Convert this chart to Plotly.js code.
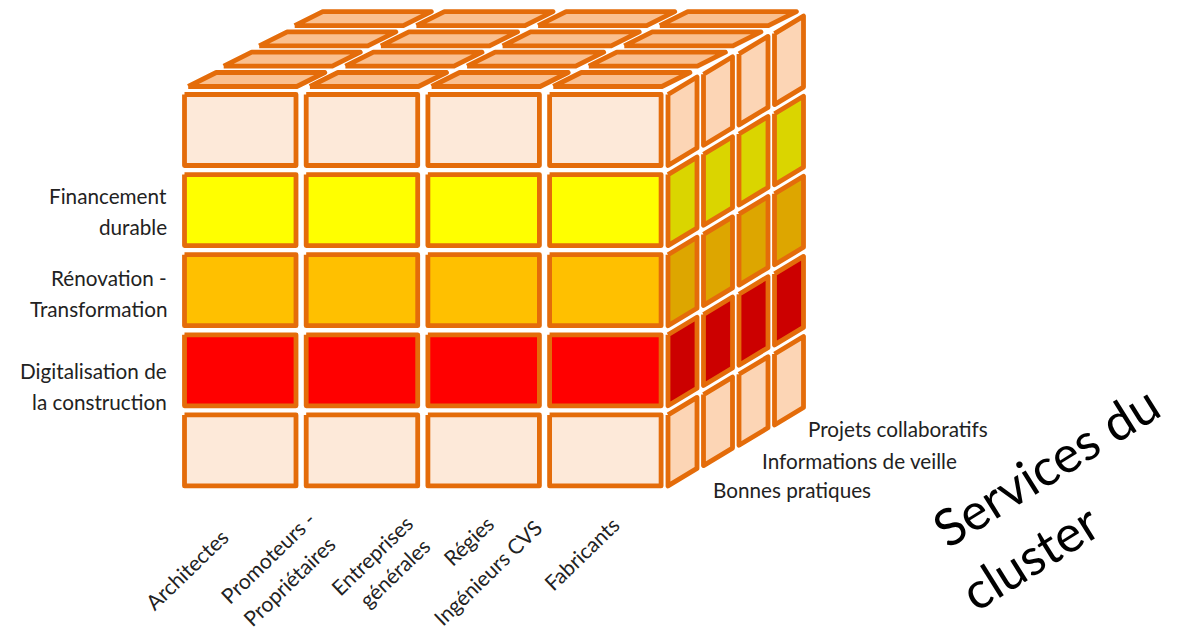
<!DOCTYPE html>
<html><head><meta charset="utf-8">
<script src="https://cdn.plot.ly/plotly-3.0.0.min.js"></script>
<style>html,body{margin:0;padding:0;background:#fff}
#chart path.js-line{stroke-linejoin:round}</style></head>
<body><div id="chart" style="width:1185px;height:631px"></div>
<script>
const publics = ["Architectes","Promoteurs -<br>Propriétaires","Entreprises<br>générales","Régies","Ingénieurs CVS","Fabricants"];
const themes = ["","Financement<br>durable","Rénovation -<br>Transformation","Digitalisation de<br>la construction",""];
const services = ["Bonnes pratiques","Informations de veille","Projets collaboratifs"];
const axisTitle = ["Services du","cluster"];
const frontColours = ["#FDE9D9","#FFFF00","#FFC000","#FF0000","#FDE9D9"];
const sideColours = ["#FCD5B5","#DAD500","#DDA600","#CC0000","#FCD5B5"];
const topColour = "#FAC090";
const edge = "#E46C0A";
const FONT = "Lato, 'Open Sans', sans-serif";

// cube geometry, in the axis units
const nCols = 4, nRows = 5, nDepth = 4;
const G = {x0:184.5, cw:111.5, cp:121.7, y0:94.5, rh:71, rp:80.1,
           sx0:668, sw:29, sp:35.5, sdrop:17.5, dy:20.3,
           tx0:188.2, tw:108.6, tShift:28, tBottom:86.5, tH:14};

const traces = [];
function cell(xs, ys, fill, name){
  traces.push({type:"scatter", mode:"lines", x:[...xs, xs[0]], y:[...ys, ys[0]],
    fill:"toself", fillcolor:fill, name:name, showlegend:false, hoverinfo:"name",
    line:{color:edge, width:4.8, shape:"linear"}});
}
for(let r=0;r<nRows;r++){
  const t=G.y0+r*G.rp, b=t+G.rh;
  for(let c=0;c<nCols;c++){
    const l=G.x0+c*G.cp;
    cell([l,l+G.cw,l+G.cw,l],[t,t,b,b],frontColours[r],"front");
  }
  for(let d=0;d<nDepth;d++){
    const l=G.sx0+d*G.sp, o=d*G.dy;
    cell([l,l+G.sw,l+G.sw,l],[t-o,t-o-G.sdrop,b-o-G.sdrop,b-o],sideColours[r],"side");
  }
}
for(let d=nDepth-1;d>=0;d--){
  for(let c=0;c<nCols;c++){
    const l=G.tx0+c*G.cp+d*G.sp, yb=G.tBottom-d*G.dy;
    cell([l,l+G.tw,l+G.tw+G.tShift,l+G.tShift],[yb,yb,yb-G.tH,yb-G.tH],topColour,"top");
  }
}

const W=1185,H=631;
const ann=[];
function label(text,x,y,o={}){
  ann.push(Object.assign({text,x,y,xref:"x",yref:"y",showarrow:false,xanchor:"center",yanchor:"middle",
    font:{family:FONT,size:20.7,color:"#222"}},o));
}
const themeY=[[196,227],[278,309],[371,402]];
themes.filter(t=>t).forEach((t,i)=>{
  t.split("<br>").forEach((ln,j)=>label(ln,168.5,themeY[i][j],{xanchor:"right"}));
});
const servX=[711,760,806], servY=[490,461,429];
services.forEach((s,i)=>label(s,servX[i],servY[i],{xanchor:"left"}));
const pubPos=[[[186,569]],[[267,557],[288,581]],[[371,555],[394,572]],[[468,540]],[[487,572]],[[581,553]]];
publics.forEach((p,i)=>{
  p.split("<br>").forEach((ln,j)=>label(ln,pubPos[i][j][0],pubPos[i][j][1],{textangle:-44,font:{family:FONT,size:21,color:"#222"}}));
});
const titlePos=[[1045,465],[1029,556]];
axisTitle.forEach((s,i)=>label(s,titlePos[i][0],titlePos[i][1],
  {textangle:-32,font:{family:FONT,size:51,color:"#000"}}));

const hidden={visible:false,fixedrange:true,showgrid:false,zeroline:false};
Plotly.newPlot("chart",traces,{
  width:W,height:H,margin:{l:0,r:0,t:0,b:0},
  paper_bgcolor:"#fff",plot_bgcolor:"#fff",
  xaxis:Object.assign({range:[0,W]},hidden),
  yaxis:Object.assign({range:[H,0]},hidden),
  annotations:ann,showlegend:false
},{displayModeBar:false});
</script></body></html>
